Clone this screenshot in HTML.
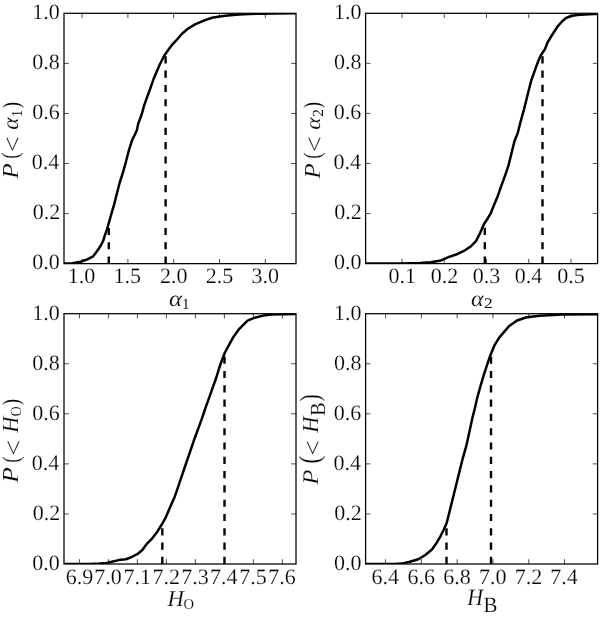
<!DOCTYPE html>
<html><head><meta charset="utf-8"><style>
html,body{margin:0;padding:0;background:#fff;}
svg{display:block;}
text{font-family:"Liberation Serif",serif;font-kerning:none;fill:#000;text-rendering:geometricPrecision;}
svg{filter:grayscale(1);}
text{stroke:#fff;}
</style></head><body>
<svg width="600" height="617" viewBox="0 0 600 617">
<rect width="600" height="617" fill="#fff"/>
<clipPath id="cS1"><rect x="64.00" y="13.30" width="232.00" height="250.35"/></clipPath>
<g clip-path="url(#cS1)">
<polyline fill="none" stroke="#000" stroke-width="2.5" stroke-linejoin="round" points="64.0,263.6 72.3,263.2 80.7,261.7 87.3,259.4 93.2,256.3 97.3,250.8 100.7,245.8 103.2,240.8 104.8,235.4 106.5,231.0 109.2,221.6 111.6,213.1 114.1,204.6 116.4,195.5 119.6,183.0 123.1,172.0 125.8,162.3 128.6,151.3 132.0,140.3 134.8,134.8 136.9,130.0 138.2,123.8 140.3,118.3 142.2,112.5 144.1,105.7 147.1,97.2 150.2,88.7 153.2,80.1 156.2,72.8 159.9,64.3 164.2,55.8 168.4,49.7 172.5,44.3 177.5,39.0 182.0,33.8 188.0,28.6 195.5,24.2 204.5,20.4 212.0,17.8 219.5,16.4 230.0,15.2 239.0,14.5 249.5,14.0 260.0,13.7 275.0,13.5 296.0,13.3"/>
<line x1="108.80" y1="263.65" x2="108.80" y2="223.59" stroke="#000" stroke-width="2.4" stroke-dasharray="7.15 7.15"/>
<line x1="165.60" y1="263.65" x2="165.60" y2="53.36" stroke="#000" stroke-width="2.4" stroke-dasharray="7.15 7.15"/>
</g>
<path d="M82.10 263.65v-4.80M82.10 13.30v4.80M127.90 263.65v-4.80M127.90 13.30v4.80M173.70 263.65v-4.80M173.70 13.30v4.80M219.50 263.65v-4.80M219.50 13.30v4.80M265.30 263.65v-4.80M265.30 13.30v4.80M64.00 213.58h4.80M296.00 213.58h-4.80M64.00 163.51h4.80M296.00 163.51h-4.80M64.00 113.44h4.80M296.00 113.44h-4.80M64.00 63.37h4.80M296.00 63.37h-4.80" stroke="#000" stroke-width="0.7" fill="none"/>
<rect x="64.00" y="13.30" width="232.00" height="250.35" fill="none" stroke="#000" stroke-width="1.25"/>
<g font-size="22" stroke-width="0.20"><text x="67.80" y="283.20">1.0</text><text x="113.61" y="283.20">1.5</text><text x="159.89" y="283.20">2.0</text><text x="205.70" y="283.20">2.5</text><text x="251.44" y="283.20">3.0</text><text x="32.34" y="269.45">0.0</text><text x="32.71" y="219.38">0.2</text><text x="31.84" y="169.31">0.4</text><text x="32.16" y="119.24">0.6</text><text x="32.34" y="69.17">0.8</text><text x="32.34" y="19.10">1.0</text></g>
<clipPath id="cS2"><rect x="365.60" y="13.30" width="232.00" height="250.30"/></clipPath>
<g clip-path="url(#cS2)">
<polyline fill="none" stroke="#000" stroke-width="2.5" stroke-linejoin="round" points="365.6,263.5 400.0,263.4 420.0,263.0 430.7,262.3 441.0,260.4 449.0,256.9 457.0,254.2 465.0,250.3 471.0,246.2 476.0,241.1 480.0,233.3 484.0,224.0 486.7,220.0 490.7,213.3 493.8,205.5 497.7,196.2 501.5,185.4 505.4,174.6 508.5,165.4 511.5,153.1 514.6,140.8 517.7,133.1 520.8,120.8 523.8,110.1 525.6,103.0 528.3,92.0 531.1,81.0 534.5,71.3 538.0,61.7 540.7,55.5 544.9,49.3 547.6,42.4 550.5,37.5 554.0,32.0 558.0,26.0 562.0,21.5 566.0,18.0 571.0,16.0 577.0,15.0 585.0,14.5 594.0,14.0 597.6,13.9"/>
<line x1="484.80" y1="263.60" x2="484.80" y2="223.55" stroke="#000" stroke-width="2.4" stroke-dasharray="7.15 7.15"/>
<line x1="542.50" y1="263.60" x2="542.50" y2="53.35" stroke="#000" stroke-width="2.4" stroke-dasharray="7.15 7.15"/>
</g>
<path d="M402.00 263.60v-4.80M402.00 13.30v4.80M444.25 263.60v-4.80M444.25 13.30v4.80M486.50 263.60v-4.80M486.50 13.30v4.80M528.75 263.60v-4.80M528.75 13.30v4.80M571.00 263.60v-4.80M571.00 13.30v4.80M365.60 213.54h4.80M597.60 213.54h-4.80M365.60 163.48h4.80M597.60 163.48h-4.80M365.60 113.42h4.80M597.60 113.42h-4.80M365.60 63.36h4.80M597.60 63.36h-4.80" stroke="#000" stroke-width="0.7" fill="none"/>
<rect x="365.60" y="13.30" width="232.00" height="250.30" fill="none" stroke="#000" stroke-width="1.25"/>
<g font-size="22" stroke-width="0.20"><text x="388.49" y="283.20">0.1</text><text x="430.69" y="283.20">0.2</text><text x="472.76" y="283.20">0.3</text><text x="514.75" y="283.20">0.4</text><text x="557.26" y="283.20">0.5</text><text x="333.94" y="269.40">0.0</text><text x="334.31" y="219.34">0.2</text><text x="333.44" y="169.28">0.4</text><text x="333.76" y="119.22">0.6</text><text x="333.94" y="69.16">0.8</text><text x="333.94" y="19.10">1.0</text></g>
<clipPath id="cS3"><rect x="64.00" y="313.70" width="232.00" height="250.30"/></clipPath>
<g clip-path="url(#cS3)">
<polyline fill="none" stroke="#000" stroke-width="2.5" stroke-linejoin="round" points="64.0,564.0 90.0,564.0 100.0,563.6 107.0,563.0 112.8,561.5 118.7,560.1 125.7,559.2 130.7,557.5 137.3,554.2 142.3,550.0 147.3,543.3 152.3,538.3 157.3,531.7 161.8,524.5 165.8,517.3 170.2,507.0 174.6,496.9 176.8,490.8 179.7,482.2 182.6,473.6 185.5,465.0 188.5,456.3 191.5,447.5 194.5,438.7 198.8,427.1 202.5,416.9 205.4,408.1 209.1,397.9 212.7,387.7 216.3,377.5 219.2,368.0 221.4,361.7 224.9,352.5 229.2,344.7 233.4,336.9 239.1,329.1 247.6,320.6 254.7,317.7 263.2,315.6 271.7,314.6 283.0,314.2 296.0,313.9"/>
<line x1="162.30" y1="564.00" x2="162.30" y2="523.95" stroke="#000" stroke-width="2.4" stroke-dasharray="7.15 7.15"/>
<line x1="224.50" y1="564.00" x2="224.50" y2="353.75" stroke="#000" stroke-width="2.4" stroke-dasharray="7.15 7.15"/>
</g>
<path d="M79.40 564.00v-4.80M79.40 313.70v4.80M108.40 564.00v-4.80M108.40 313.70v4.80M137.40 564.00v-4.80M137.40 313.70v4.80M166.40 564.00v-4.80M166.40 313.70v4.80M195.40 564.00v-4.80M195.40 313.70v4.80M224.40 564.00v-4.80M224.40 313.70v4.80M253.40 564.00v-4.80M253.40 313.70v4.80M282.40 564.00v-4.80M282.40 313.70v4.80M64.00 513.94h4.80M296.00 513.94h-4.80M64.00 463.88h4.80M296.00 463.88h-4.80M64.00 413.82h4.80M296.00 413.82h-4.80M64.00 363.76h4.80M296.00 363.76h-4.80" stroke="#000" stroke-width="0.7" fill="none"/>
<rect x="64.00" y="313.70" width="232.00" height="250.30" fill="none" stroke="#000" stroke-width="1.25"/>
<g font-size="22" stroke-width="0.20"><text x="65.63" y="584.00">6.9</text><text x="94.34" y="584.00">7.0</text><text x="123.59" y="584.00">7.1</text><text x="152.53" y="584.00">7.2</text><text x="181.35" y="584.00">7.3</text><text x="210.10" y="584.00">7.4</text><text x="239.35" y="584.00">7.5</text><text x="268.25" y="584.00">7.6</text><text x="32.34" y="569.80">0.0</text><text x="32.71" y="519.74">0.2</text><text x="31.84" y="469.68">0.4</text><text x="32.16" y="419.62">0.6</text><text x="32.34" y="369.56">0.8</text><text x="32.34" y="319.50">1.0</text></g>
<clipPath id="cS4"><rect x="365.60" y="313.70" width="232.00" height="250.30"/></clipPath>
<g clip-path="url(#cS4)">
<polyline fill="none" stroke="#000" stroke-width="2.5" stroke-linejoin="round" points="365.6,564.0 395.0,564.0 401.7,563.6 409.0,562.0 418.3,559.2 425.0,555.2 431.7,549.8 435.7,544.3 439.7,537.7 443.7,529.8 446.6,523.3 449.2,513.0 451.8,502.5 454.4,492.0 457.0,481.5 459.5,471.4 462.9,457.8 466.3,445.9 469.7,430.6 472.2,418.7 474.8,408.5 477.3,397.5 480.5,386.2 483.8,374.8 487.0,365.1 490.3,355.4 494.3,345.7 499.2,337.6 504.8,331.1 508.9,326.2 517.0,320.5 526.7,317.3 539.7,315.7 562.5,314.6 597.6,314.3"/>
<line x1="446.50" y1="564.00" x2="446.50" y2="523.95" stroke="#000" stroke-width="2.4" stroke-dasharray="7.15 7.15"/>
<line x1="491.00" y1="564.00" x2="491.00" y2="353.75" stroke="#000" stroke-width="2.4" stroke-dasharray="7.15 7.15"/>
</g>
<path d="M385.60 564.00v-4.80M385.60 313.70v4.80M421.38 564.00v-4.80M421.38 313.70v4.80M457.16 564.00v-4.80M457.16 313.70v4.80M492.94 564.00v-4.80M492.94 313.70v4.80M528.72 564.00v-4.80M528.72 313.70v4.80M564.50 564.00v-4.80M564.50 313.70v4.80M365.60 513.94h4.80M597.60 513.94h-4.80M365.60 463.88h4.80M597.60 463.88h-4.80M365.60 413.82h4.80M597.60 413.82h-4.80M365.60 363.76h4.80M597.60 363.76h-4.80" stroke="#000" stroke-width="0.7" fill="none"/>
<rect x="365.60" y="313.70" width="232.00" height="250.30" fill="none" stroke="#000" stroke-width="1.25"/>
<g font-size="22" stroke-width="0.20"><text x="371.55" y="584.00">6.4</text><text x="407.48" y="584.00">6.6</text><text x="443.36" y="584.00">6.8</text><text x="478.88" y="584.00">7.0</text><text x="514.85" y="584.00">7.2</text><text x="550.20" y="584.00">7.4</text><text x="333.94" y="569.80">0.0</text><text x="334.31" y="519.74">0.2</text><text x="333.44" y="469.68">0.4</text><text x="333.76" y="419.62">0.6</text><text x="333.94" y="369.56">0.8</text><text x="333.94" y="319.50">1.0</text></g>
<g><text font-style="italic" font-size="100" stroke-width="0.848" transform="matrix(0.2492,0.0000,0.0000,0.2231,169.0079,305.5213)">α</text><text font-size="100" stroke-width="0.000" transform="matrix(0.1420,0.0000,0.0000,0.1553,182.3517,308.7500)">1</text><text font-style="italic" font-size="100" stroke-width="0.862" transform="matrix(0.2404,0.0000,0.0000,0.2241,470.9841,305.5702)">α</text><text font-size="100" stroke-width="0.000" transform="matrix(0.1746,0.0000,0.0000,0.1465,484.0326,308.3000)">2</text><text font-style="italic" font-size="100" stroke-width="0.881" transform="matrix(0.2263,0.0000,0.0000,0.2276,167.4431,605.7000)">H</text><text font-size="100" stroke-width="1.353" transform="matrix(0.1453,0.0000,0.0000,0.1503,183.4041,609.0532)">O</text><text font-style="italic" font-size="100" stroke-width="0.882" transform="matrix(0.2186,0.0000,0.0000,0.2352,467.2348,604.7000)">H</text><text font-size="100" stroke-width="0.936" transform="matrix(0.2087,0.0000,0.0000,0.2189,483.3988,611.6359)">B</text><text font-style="italic" font-size="100" stroke-width="0.832" transform="matrix(0.0000,-0.2522,0.2291,0.0000,18.2000,178.7645)">P</text><text font-size="100" stroke-width="0.932" transform="matrix(0.0000,-0.1908,0.2415,0.0000,18.3582,158.7384)">(</text><text font-size="100" stroke-width="0.746" transform="matrix(0.0000,-0.2772,0.2591,0.0000,21.3532,151.9807)">&lt;</text><text font-style="italic" font-size="100" stroke-width="0.872" transform="matrix(0.0000,-0.2325,0.2262,0.0000,18.4681,129.6927)">α</text><text font-size="100" stroke-width="0.000" transform="matrix(0.0000,-0.1335,0.1545,0.0000,21.8000,116.6734)">1</text><text font-size="100" stroke-width="0.909" transform="matrix(0.0000,-0.1986,0.2437,0.0000,18.6112,108.5399)">)</text><text font-style="italic" font-size="100" stroke-width="0.832" transform="matrix(0.0000,-0.2522,0.2291,0.0000,319.9000,178.7645)">P</text><text font-size="100" stroke-width="0.932" transform="matrix(0.0000,-0.1908,0.2415,0.0000,320.0582,158.7384)">(</text><text font-size="100" stroke-width="0.746" transform="matrix(0.0000,-0.2772,0.2591,0.0000,323.0532,151.9807)">&lt;</text><text font-style="italic" font-size="100" stroke-width="0.901" transform="matrix(0.0000,-0.2325,0.2116,0.0000,319.9830,129.6927)">α</text><text font-size="100" stroke-width="0.000" transform="matrix(0.0000,-0.1522,0.1541,0.0000,323.2000,116.6687)">2</text><text font-size="100" stroke-width="0.909" transform="matrix(0.0000,-0.1986,0.2437,0.0000,320.1112,108.5399)">)</text><text font-style="italic" font-size="100" stroke-width="0.827" transform="matrix(0.0000,-0.2556,0.2291,0.0000,18.2000,482.8627)">P</text><text font-size="100" stroke-width="0.932" transform="matrix(0.0000,-0.1908,0.2415,0.0000,18.6582,462.6384)">(</text><text font-size="100" stroke-width="0.746" transform="matrix(0.0000,-0.2772,0.2591,0.0000,21.5532,455.4807)">&lt;</text><text font-style="italic" font-size="100" stroke-width="0.881" transform="matrix(0.0000,-0.2250,0.2291,0.0000,17.9000,432.6583)">H</text><text font-size="100" stroke-width="1.356" transform="matrix(0.0000,-0.1406,0.1548,0.0000,21.4488,416.3767)">O</text><text font-size="100" stroke-width="0.905" transform="matrix(0.0000,-0.1986,0.2459,0.0000,18.8642,405.4399)">)</text><text font-style="italic" font-size="100" stroke-width="0.846" transform="matrix(0.0000,-0.2488,0.2245,0.0000,317.8000,484.7664)">P</text><text font-size="100" stroke-width="0.756" transform="matrix(0.0000,-0.2414,0.2901,0.0000,319.2251,463.6608)">(</text><text font-size="100" stroke-width="0.771" transform="matrix(0.0000,-0.2686,0.2508,0.0000,320.5779,455.5379)">&lt;</text><text font-style="italic" font-size="100" stroke-width="0.881" transform="matrix(0.0000,-0.2250,0.2291,0.0000,317.9000,432.7583)">H</text><text font-size="100" stroke-width="0.950" transform="matrix(0.0000,-0.2053,0.2159,0.0000,324.7367,416.0915)">B</text><text font-size="100" stroke-width="0.806" transform="matrix(0.0000,-0.2180,0.2823,0.0000,318.7894,401.6027)">)</text></g>
</svg>
</body></html>
